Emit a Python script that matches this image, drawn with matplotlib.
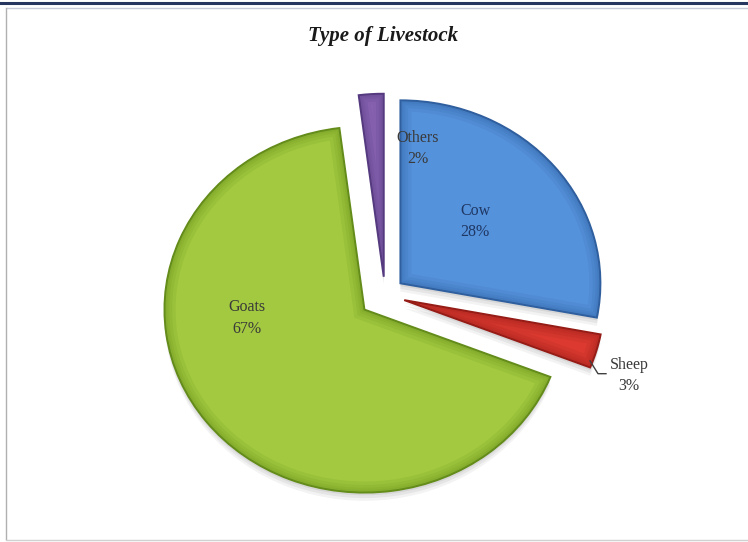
import matplotlib.pyplot as plt
from matplotlib.lines import Line2D
from matplotlib.patches import Wedge

# livestock shares (percent)
animals = ['Cow', 'Sheep', 'Goats', 'Others']
shares = [28, 3, 67, 2]
explode = [0.10, 0.10, 0.13, 0.10]
fills = ['#5592dc', '#dc3a30', '#a2c93f', '#8a65b4']
edges = ['#2f5f9e', '#961d17', '#648c1a', '#553a80']

fig = plt.figure(figsize=(7.48, 5.42), dpi=100)
fig.patch.set_facecolor('white')
ax = fig.add_axes([0, 0, 1, 1])

# soft drop shadow under the pie
for dy, a in [(-0.045, 0.08), (-0.03, 0.10), (-0.015, 0.12)]:
    ax.pie(shares, explode=explode, startangle=90, counterclock=False,
           center=(0.0, dy), radius=1.0,
           wedgeprops=dict(facecolor='#6a6a6a', edgecolor='none', alpha=a))

wedges, _ = ax.pie(shares, explode=explode, startangle=90, counterclock=False,
                   wedgeprops=dict(linewidth=1.4))
for w, fc, ec in zip(wedges, fills, edges):
    w.set_facecolor(fc)
    w.set_edgecolor(ec)
    # bevel: darker band along the inside of each slice border
    for lw in [16, 11, 7, 4]:
        band = Wedge(w.center, w.r, w.theta1, w.theta2, facecolor='none',
                     edgecolor=ec, lw=lw, alpha=0.13, zorder=w.get_zorder() + 0.1)
        ax.add_patch(band)
        band.set_clip_path(w)

# pie is slightly wider than tall
ax.set_xlim(-385 / 200, (748 - 385) / 200)
ax.set_ylim(-(542 - 295) / 183, 295 / 183)
ax.set_aspect('auto')
ax.axis('off')

lbl = dict(family='Liberation Serif', fontsize=11.5, ha='center', va='center',
           linespacing=1.45, zorder=5)
ax.text(0.45, 0.40, f"{animals[0]}\n{shares[0]}%", color='#1f3763', **lbl)
ax.text(0.165, 0.80, f"{animals[3]}\n{shares[3]}%", color='#3a3a3a', **lbl)
ax.text(-0.69, -0.125, f"{animals[2]}\n{shares[2]}%", color='#3a3a3a', **lbl)
ax.text(1.22, -0.44, f"{animals[1]}\n{shares[1]}%", color='#3a3a3a', **lbl)
ax.plot([1.025, 1.065, 1.105], [-0.36, -0.43, -0.43], color='#404040', lw=1)

fig.text(0.512, 0.933, 'Type of Livestock', family='Liberation Serif',
         fontsize=15, fontweight='bold', style='italic', ha='center', va='center',
         color='#1a1a1a')

# frame lines around the figure
fig.add_artist(Line2D([0, 1], [0.994, 0.994], color='#27365f', lw=2.2))
fig.add_artist(Line2D([0.01, 1], [0.985, 0.985], color='#c7cbd8', lw=1))
fig.add_artist(Line2D([0.008, 0.008], [0.005, 0.985], color='#b0b0b0', lw=1))
fig.add_artist(Line2D([0.008, 1], [0.004, 0.004], color='#d0d0d0', lw=1))

fig.savefig('out.png', dpi=100)
